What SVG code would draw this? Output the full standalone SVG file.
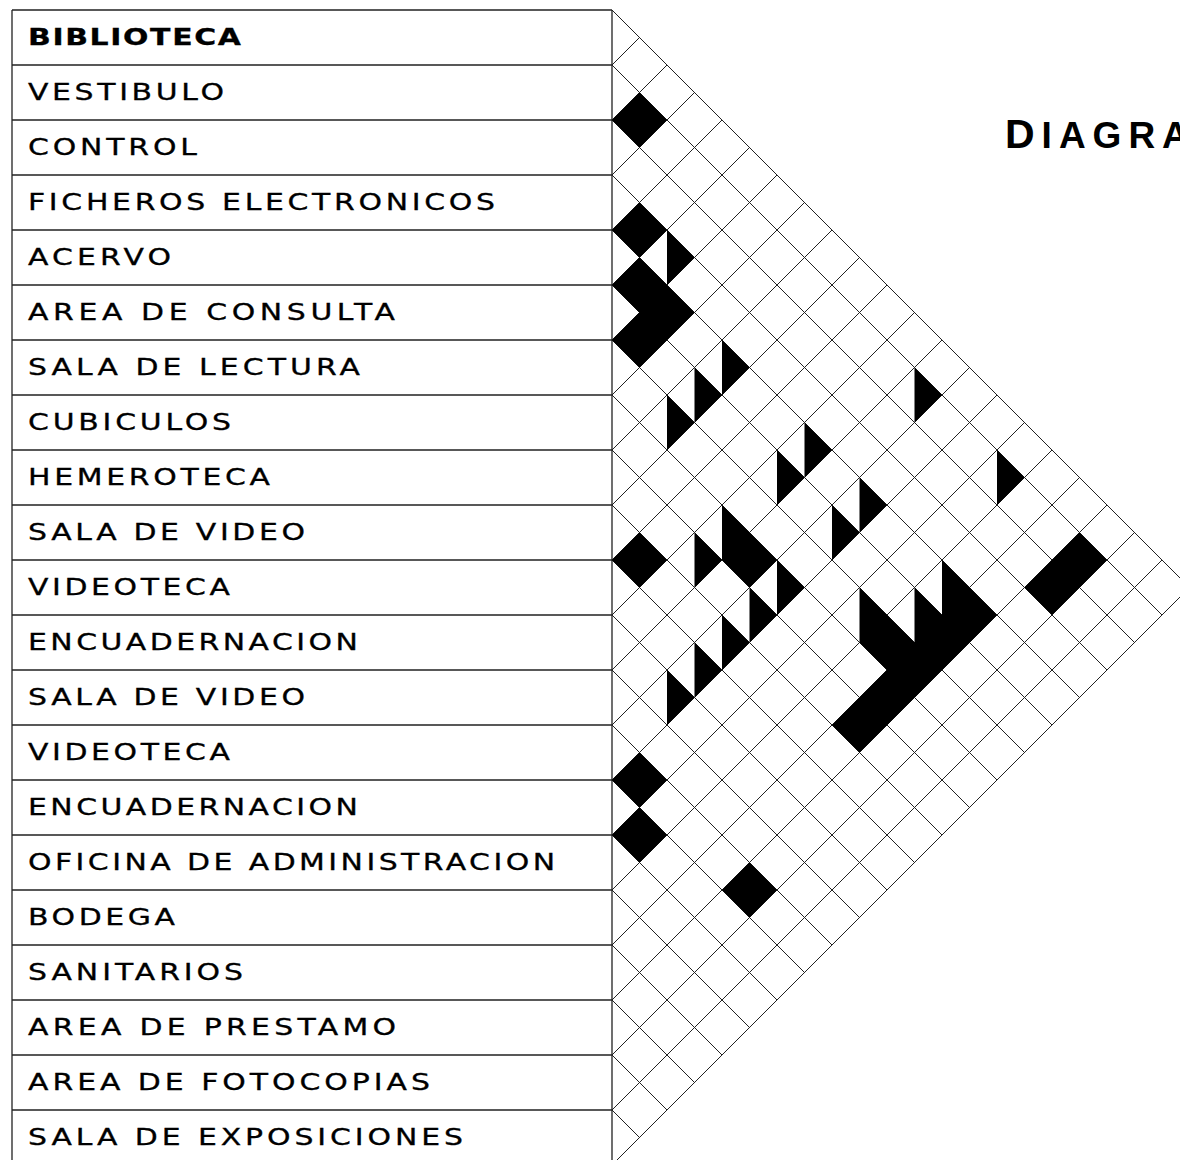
<svg xmlns="http://www.w3.org/2000/svg" width="1180" height="1160" viewBox="0 0 1180 1160">
<style>
.tbl{stroke:#222;stroke-width:1.3;fill:none}
.grid{stroke:#222;stroke-width:1;fill:none}
.lbl{font-family:"DejaVu Sans","Liberation Sans",sans-serif;font-size:23px;fill:#000;stroke:#000;stroke-width:0.3}
.b{font-weight:bold}
.fill{fill:#000;stroke:none}
.title{font-family:"Liberation Sans","DejaVu Sans",sans-serif;font-weight:bold;fill:#000;letter-spacing:7px}
</style>
<rect width="1180" height="1160" fill="#fff"/>
<g id="table">
<path class="tbl" d="M12 10V1165M612 10V1165M12 10H612M12 65H612M12 120H612M12 175H612M12 230H612M12 285H612M12 340H612M12 395H612M12 450H612M12 505H612M12 560H612M12 615H612M12 670H612M12 725H612M12 780H612M12 835H612M12 890H612M12 945H612M12 1000H612M12 1055H612M12 1110H612M12 1165H612"/>
</g>
<g id="labels" transform="scale(1.3 1)">
<text id="n0" class="lbl b" x="21.54" y="45" textLength="163.8" lengthAdjust="spacing">BIBLIOTECA</text>
<text id="n1" class="lbl" x="21.54" y="100" textLength="150.8" lengthAdjust="spacing">VESTIBULO</text>
<text id="n2" class="lbl" x="21.54" y="155" textLength="130" lengthAdjust="spacing">CONTROL</text>
<text id="n3" class="lbl" x="21.54" y="210" textLength="359.2" lengthAdjust="spacing">FICHEROS ELECTRONICOS</text>
<text id="n4" class="lbl" x="21.54" y="265" textLength="110" lengthAdjust="spacing">ACERVO</text>
<text id="n5" class="lbl" x="21.54" y="320" textLength="282.3" lengthAdjust="spacing">AREA DE CONSULTA</text>
<text id="n6" class="lbl" x="21.54" y="375" textLength="255.4" lengthAdjust="spacing">SALA DE LECTURA</text>
<text id="n7" class="lbl" x="21.54" y="430" textLength="156.2" lengthAdjust="spacing">CUBICULOS</text>
<text id="n8" class="lbl" x="21.54" y="485" textLength="186.2" lengthAdjust="spacing">HEMEROTECA</text>
<text id="n9" class="lbl" x="21.54" y="540" textLength="213.1" lengthAdjust="spacing">SALA DE VIDEO</text>
<text id="n10" class="lbl" x="21.54" y="595" textLength="155.4" lengthAdjust="spacing">VIDEOTECA</text>
<text id="n11" class="lbl" x="21.54" y="650" textLength="253.8" lengthAdjust="spacing">ENCUADERNACION</text>
<text id="n12" class="lbl" x="21.54" y="705" textLength="213.1" lengthAdjust="spacing">SALA DE VIDEO</text>
<text id="n13" class="lbl" x="21.54" y="760" textLength="155.4" lengthAdjust="spacing">VIDEOTECA</text>
<text id="n14" class="lbl" x="21.54" y="815" textLength="253.8" lengthAdjust="spacing">ENCUADERNACION</text>
<text id="n15" class="lbl" x="21.54" y="870" textLength="405.4" lengthAdjust="spacing">OFICINA DE ADMINISTRACION</text>
<text id="n16" class="lbl" x="21.54" y="925" textLength="113.1" lengthAdjust="spacing">BODEGA</text>
<text id="n17" class="lbl" x="21.54" y="980" textLength="165.4" lengthAdjust="spacing">SANITARIOS</text>
<text id="n18" class="lbl" x="21.54" y="1035" textLength="283.1" lengthAdjust="spacing">AREA DE PRESTAMO</text>
<text id="n19" class="lbl" x="21.54" y="1090" textLength="309.2" lengthAdjust="spacing">AREA DE FOTOCOPIAS</text>
<text id="n20" class="lbl" x="21.54" y="1145" textLength="334.6" lengthAdjust="spacing">SALA DE EXPOSICIONES</text>
</g>
<g id="connectors">
<path class="grid" d="M612 10L1189.5 587.5M612 65L1162 615M612 120L1134.5 642.5M612 175L1107 670M612 230L1079.5 697.5M612 285L1052 725M612 340L1024.5 752.5M612 395L997 780M612 450L969.5 807.5M612 505L942 835M612 560L914.5 862.5M612 615L887 890M612 670L859.5 917.5M612 725L832 945M612 780L804.5 972.5M612 835L777 1000M612 890L749.5 1027.5M612 945L722 1055M612 1000L694.5 1082.5M612 1055L667 1110M612 1110L639.5 1137.5"/>
<path class="grid" d="M612 65L639.5 37.5M612 120L667 65M612 175L694.5 92.5M612 230L722 120M612 285L749.5 147.5M612 340L777 175M612 395L804.5 202.5M612 450L832 230M612 505L859.5 257.5M612 560L887 285M612 615L914.5 312.5M612 670L942 340M612 725L969.5 367.5M612 780L997 395M612 835L1024.5 422.5M612 890L1052 450M612 945L1079.5 477.5M612 1000L1107 505M612 1055L1134.5 532.5M612 1110L1162 560M612 1165L1189.5 587.5"/>
</g>
<g id="relations" class="fill" transform="translate(612 10) scale(27.5)">
<polygon points="0,4 1,3 2,4 1,5"/>
<polygon points="0,8 1,7 2,8 1,9"/>
<polygon points="2,8 3,9 2,10"/>
<polygon points="1,9 3,11 1,13 0,12 1,11 0,10"/>
<polygon points="4,12 5,13 4,14"/>
<polygon points="3,13 4,14 3,15"/>
<polygon points="2,14 3,15 2,16"/>
<polygon points="11,13 12,14 11,15"/>
<polygon points="7,15 8,16 7,17"/>
<polygon points="6,16 7,17 6,18"/>
<polygon points="14,16 15,17 14,18"/>
<polygon points="9,17 10,18 9,19"/>
<polygon points="8,18 9,19 8,20"/>
<polygon points="0,20 1,19 2,20 1,21"/>
<polygon points="3,19 4,20 3,21"/>
<polygon points="4,18 6,20 5,21 4,20"/>
<polygon points="6,20 7,21 6,22"/>
<polygon points="5,21 6,22 5,23"/>
<polygon points="4,22 5,23 4,24"/>
<polygon points="3,23 4,24 3,25"/>
<polygon points="2,24 3,25 2,26"/>
<polygon points="17,19 18,20 16,22 15,21"/>
<polygon points="12,20 14,22 9,27 8,26 10,24 9,23 9,21 10,22 11,23 11,21 12,22"/>
<polygon points="0,28 1,27 2,28 1,29"/>
<polygon points="0,30 1,29 2,30 1,31"/>
<polygon points="4,32 5,31 6,32 5,33"/>
</g>
<g id="title">
<text class="title" x="1005" y="148"><tspan font-size="41">D</tspan><tspan font-size="37">IAGRA</tspan></text>
</g>
</svg>
